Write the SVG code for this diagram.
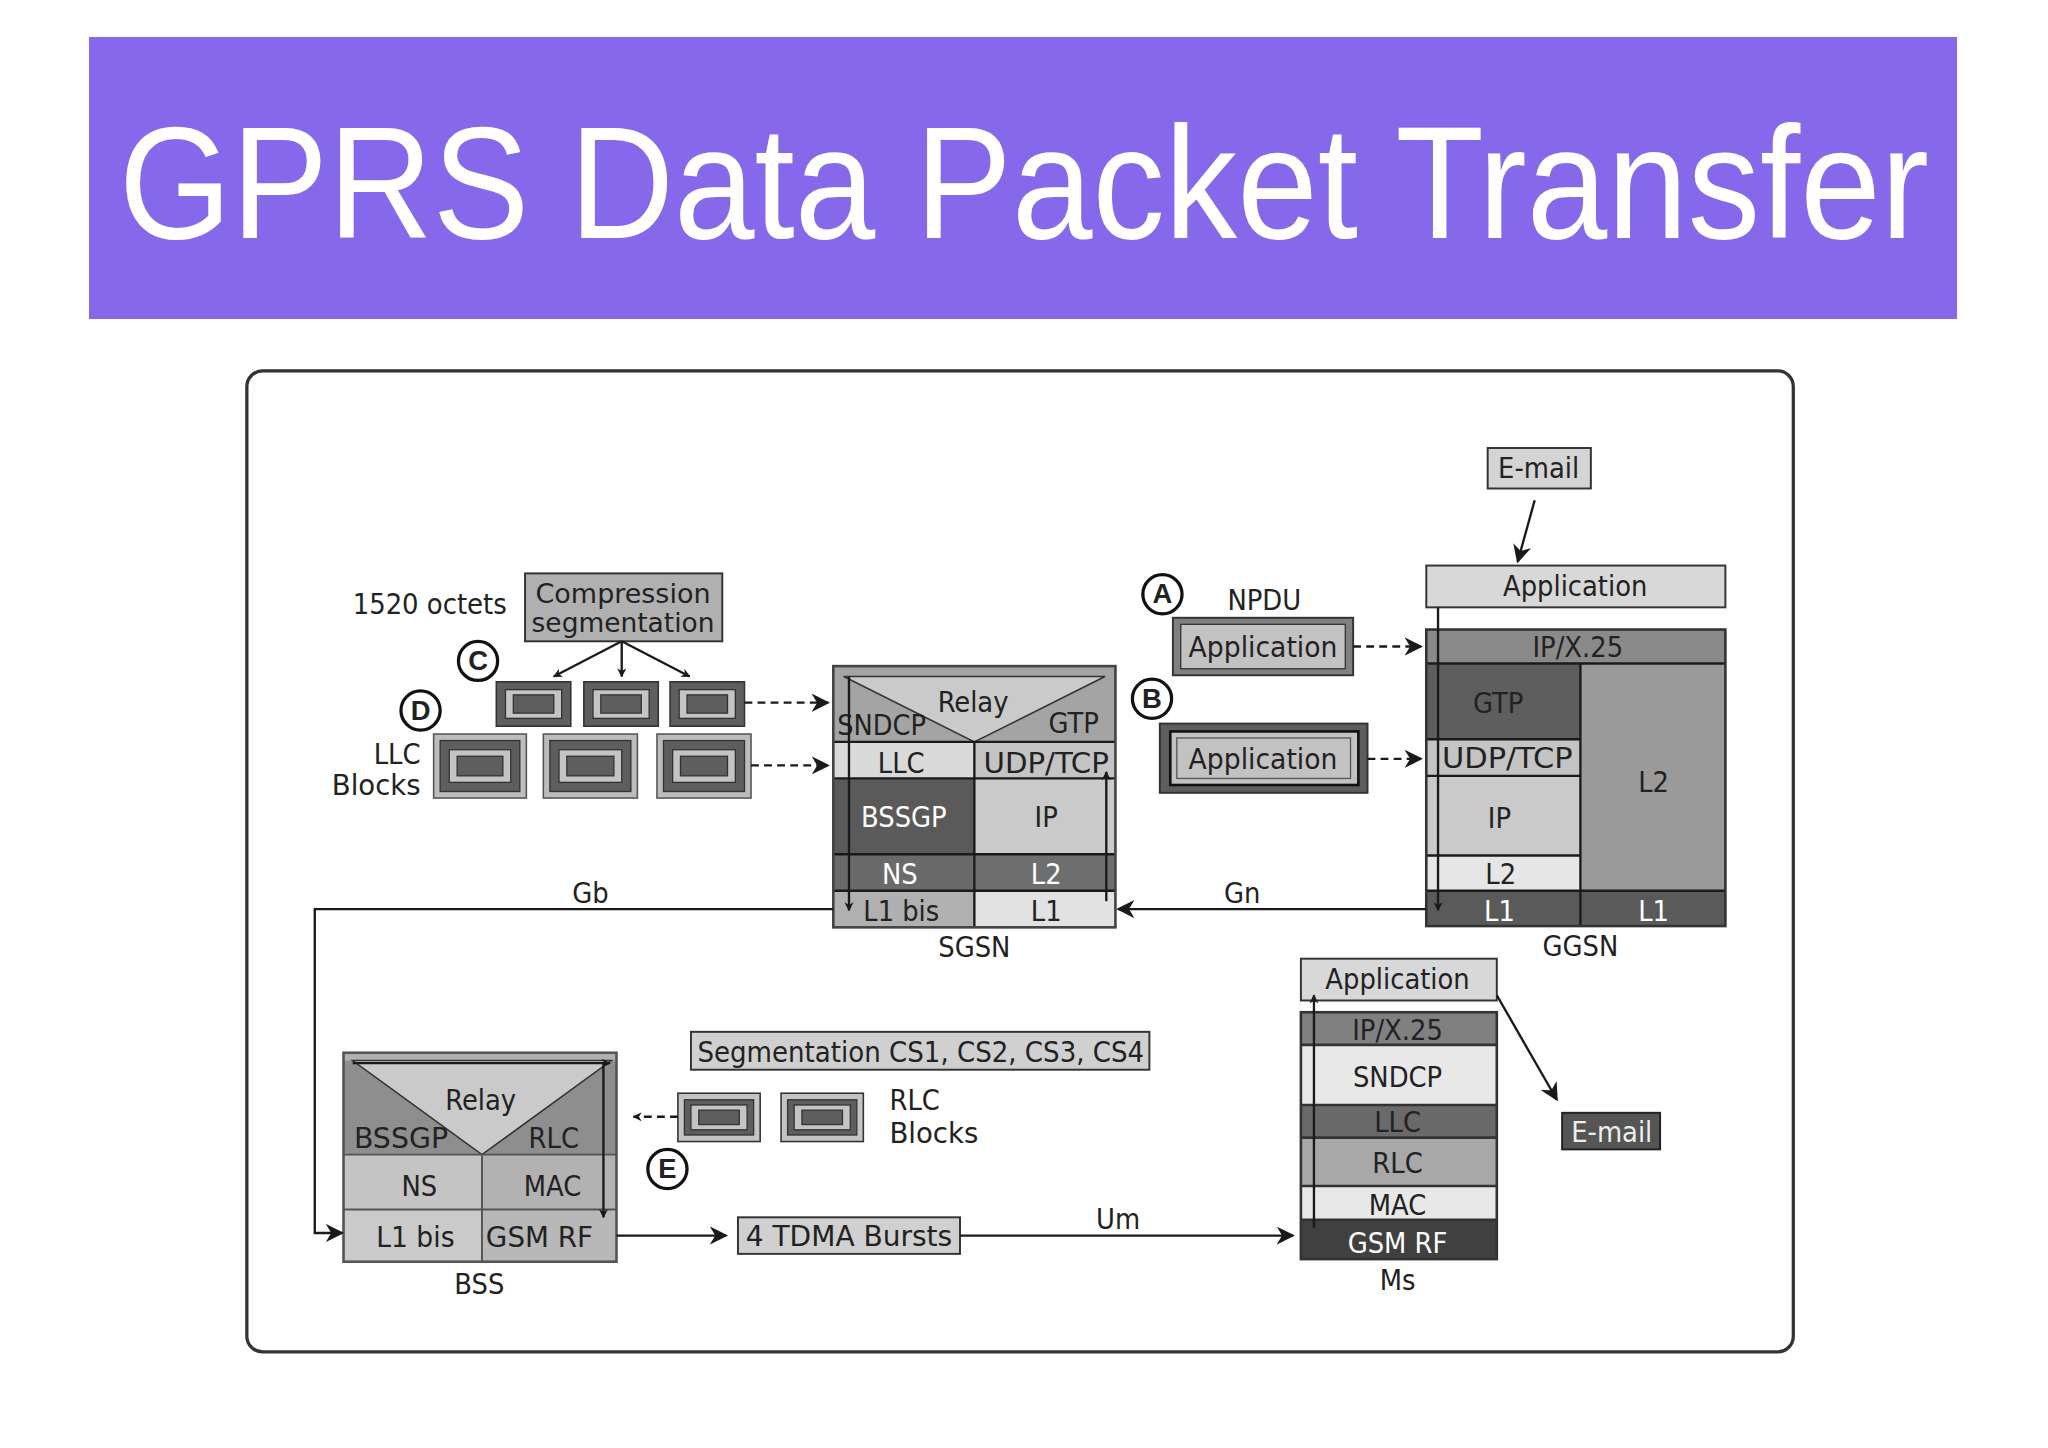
<svg xmlns="http://www.w3.org/2000/svg" width="2048" height="1448" viewBox="0 0 2048 1448">
<defs>
<marker id="ah" viewBox="0 0 10 10" refX="9" refY="5" markerWidth="7" markerHeight="7" markerUnits="userSpaceOnUse" orient="auto"><path d="M0,0 L10,5 L0,10 L3,5 z" fill="#1a1a1a"/></marker>
<marker id="ahs" viewBox="0 0 10 10" refX="9" refY="5" markerWidth="14" markerHeight="14" markerUnits="userSpaceOnUse" orient="auto"><path d="M0,0 L10,5 L0,10 L3,5 z" fill="#1a1a1a"/></marker>
<style>
text{font-family:"Liberation Sans Narrow","DejaVu Sans Condensed","Liberation Sans",sans-serif;font-stretch:condensed;fill:#222;text-anchor:middle}
.t{font-size:22px}
.s{font-size:20px}
.w{fill:#fff}
.b{stroke:#333;stroke-width:1.5}
.ln{stroke:#1a1a1a;stroke-width:1.8;fill:none}
.da{stroke:#1a1a1a;stroke-width:1.8;fill:none;stroke-dasharray:6 4}
.c{fill:#fff;stroke:#111;stroke-width:2.5}
.cl{font-size:21px;font-weight:bold;font-family:"Liberation Sans",sans-serif;font-stretch:normal}
</style>
</defs>
<rect width="2048" height="1448" fill="#fff"/>
<rect x="89" y="37" width="1868" height="282" fill="#8668EA"/>
<text x="1024" y="238" style="font-family:'Liberation Sans',sans-serif;font-stretch:normal;font-size:160px;fill:#fff" textLength="1810" lengthAdjust="spacingAndGlyphs">GPRS Data Packet Transfer</text>
<g transform="scale(1.30612)">
<rect x="189" y="284" width="1184" height="751" rx="12" fill="#fff" stroke="#333" stroke-width="2.5"/>

<g id="compression">
<rect x="402" y="439" width="151" height="52" fill="#b0b0b0" class="b"/>
<text x="477" y="462" class="s" textLength="134" lengthAdjust="spacingAndGlyphs">Compression</text>
<text x="477" y="484" class="s" textLength="140" lengthAdjust="spacingAndGlyphs">segmentation</text>
<text x="329" y="470" class="t" textLength="118" lengthAdjust="spacingAndGlyphs">1520 octets</text>
</g>
<g id="circleC"><circle cx="366" cy="506" r="15" class="c"/><text x="366" y="513" class="cl">C</text></g>
<g id="circleD"><circle cx="322" cy="544" r="15" class="c"/><text x="322" y="551" class="cl">D</text></g>
<g id="circleA"><circle cx="890" cy="455" r="15" class="c"/><text x="890" y="462" class="cl">A</text></g>
<g id="circleB"><circle cx="882" cy="535" r="15" class="c"/><text x="882" y="542" class="cl">B</text></g>
<g id="circleE"><circle cx="511" cy="895" r="15" class="c"/><text x="511" y="902" class="cl">E</text></g>

<g id="smallBlocks">
<g fill="#5e5e5e" stroke="#333" stroke-width="1.2">
<rect x="380" y="522" width="57" height="34"/><rect x="447" y="522" width="57" height="34"/><rect x="513" y="522" width="57" height="34"/>
</g>
<g fill="#c4c4c4" stroke="#333" stroke-width="1"><rect x="387" y="528" width="43" height="22"/><rect x="454" y="528" width="43" height="22"/><rect x="520" y="528" width="43" height="22"/></g>
<g fill="#5e5e5e" stroke="#333" stroke-width="1"><rect x="393" y="532" width="31" height="14"/><rect x="460" y="532" width="31" height="14"/><rect x="526" y="532" width="31" height="14"/></g>
</g>
<g id="llcBlocks">
<g fill="#bcbcbc" stroke="#555" stroke-width="1.2"><rect x="332" y="562" width="71" height="49"/><rect x="416" y="562" width="72" height="49"/><rect x="503" y="562" width="72" height="49"/></g>
<g fill="#5e5e5e" stroke="#333" stroke-width="1"><rect x="337" y="567" width="61" height="39"/><rect x="421" y="567" width="62" height="39"/><rect x="508" y="567" width="62" height="39"/></g>
<g fill="#c4c4c4" stroke="#333" stroke-width="1"><rect x="344" y="574" width="47" height="25"/><rect x="428" y="574" width="48" height="25"/><rect x="515" y="574" width="48" height="25"/></g>
<g fill="#5e5e5e" stroke="#333" stroke-width="1"><rect x="350" y="579" width="35" height="15"/><rect x="434" y="579" width="36" height="15"/><rect x="521" y="579" width="36" height="15"/></g>
<text x="322" y="585" class="t" style="text-anchor:end">LLC</text>
<text x="322" y="609" class="t" style="text-anchor:end" textLength="68" lengthAdjust="spacingAndGlyphs">Blocks</text>
</g>

<g id="sgsn">
<rect x="638" y="510" width="216" height="58" fill="#a4a4a4"/>
<polygon points="646,518 846,518 746,568" fill="#cacaca" stroke="#333" stroke-width="1.2"/>
<rect x="638" y="568" width="108" height="28" fill="#dadada"/>
<rect x="746" y="568" width="108" height="28" fill="#c4c4c4"/>
<rect x="638" y="596" width="108" height="58" fill="#5a5a5a"/>
<rect x="746" y="596" width="108" height="58" fill="#cacaca"/>
<rect x="638" y="654" width="108" height="28" fill="#6a6a6a"/>
<rect x="746" y="654" width="108" height="28" fill="#6e6e6e"/>
<rect x="638" y="682" width="108" height="28" fill="#b0b0b0"/>
<rect x="746" y="682" width="108" height="28" fill="#e2e2e2"/>
<g class="ln"><line x1="638" y1="568" x2="854" y2="568"/><line x1="638" y1="596" x2="854" y2="596"/><line x1="638" y1="654" x2="854" y2="654"/><line x1="638" y1="682" x2="854" y2="682"/><line x1="746" y1="568" x2="746" y2="710"/></g>
<rect x="638" y="510" width="216" height="200" fill="none" stroke="#444" stroke-width="2"/>
<text x="745" y="545" class="t">Relay</text>
<text x="675" y="563" class="t" textLength="68" lengthAdjust="spacingAndGlyphs">SNDCP</text>
<text x="822" y="561" class="t">GTP</text>
<text x="690" y="592" class="t">LLC</text>
<text x="801" y="592" class="t" textLength="96" lengthAdjust="spacingAndGlyphs">UDP/TCP</text>
<text x="692" y="633" class="t w">BSSGP</text>
<text x="801" y="633" class="t">IP</text>
<text x="689" y="677" class="t w">NS</text>
<text x="801" y="677" class="t w">L2</text>
<text x="690" y="705" class="t" textLength="58" lengthAdjust="spacingAndGlyphs">L1 bis</text>
<text x="801" y="705" class="t">L1</text>
<text x="746" y="733" class="t">SGSN</text>
</g>

<g id="ggsnEmail"><rect x="1139" y="343" width="79" height="31" fill="#d4d4d4" class="b"/><text x="1178" y="366" class="t">E-mail</text></g>
<g id="ggsn">
<rect x="1092" y="433" width="229" height="32" fill="#d8d8d8" class="b"/>
<text x="1206" y="456" class="t">Application</text>
<rect x="1092" y="482" width="229" height="26" fill="#8a8a8a"/>
<rect x="1092" y="508" width="118" height="58" fill="#5e5e5e"/>
<rect x="1092" y="566" width="118" height="28" fill="#c4c4c4"/>
<rect x="1092" y="594" width="118" height="61" fill="#cacaca"/>
<rect x="1092" y="655" width="118" height="27" fill="#e6e6e6"/>
<rect x="1210" y="508" width="111" height="174" fill="#9a9a9a"/>
<rect x="1092" y="682" width="229" height="27" fill="#5a5a5a"/>
<g class="ln"><line x1="1092" y1="508" x2="1321" y2="508"/><line x1="1092" y1="566" x2="1210" y2="566"/><line x1="1092" y1="594" x2="1210" y2="594"/><line x1="1092" y1="655" x2="1210" y2="655"/><line x1="1092" y1="682" x2="1321" y2="682"/><line x1="1210" y1="508" x2="1210" y2="709"/></g>
<rect x="1092" y="482" width="229" height="227" fill="none" stroke="#333" stroke-width="2"/>
<text x="1208" y="503" class="t">IP/X.25</text>
<text x="1147" y="546" class="t">GTP</text>
<text x="1154" y="588" class="t" textLength="100" lengthAdjust="spacingAndGlyphs">UDP/TCP</text>
<text x="1148" y="634" class="t">IP</text>
<text x="1149" y="677" class="t">L2</text>
<text x="1266" y="606" class="t">L2</text>
<text x="1148" y="705" class="t w">L1</text>
<text x="1266" y="705" class="t w">L1</text>
<text x="1210" y="732" class="t">GGSN</text>
</g>

<g id="npduA">
<rect x="898" y="473" width="138" height="44" fill="#808080" stroke="#333" stroke-width="1.5"/>
<rect x="904" y="478" width="126" height="34" fill="#c2c2c2" stroke="#333" stroke-width="1"/>
<text x="967" y="503" class="t" textLength="114" lengthAdjust="spacingAndGlyphs">Application</text>
<text x="968" y="467" class="t">NPDU</text>
</g>
<g id="npduB">
<rect x="888" y="554" width="159" height="53" fill="#5e5e5e" stroke="#333" stroke-width="1.5"/>
<rect x="896" y="560" width="144" height="41" fill="#c2c2c2" stroke="#111" stroke-width="2"/>
<rect x="901" y="565" width="133" height="31" fill="none" stroke="#555" stroke-width="1"/>
<text x="967" y="589" class="t" textLength="114" lengthAdjust="spacingAndGlyphs">Application</text>
</g>

<g id="bss">
<rect x="263" y="806" width="209" height="78" fill="#8e8e8e"/>
<rect x="263" y="806" width="209" height="6" fill="#b0b0b0"/>
<polygon points="270,812 468,812 369,884" fill="#cacaca" stroke="#333" stroke-width="1.2"/>
<rect x="263" y="884" width="106" height="42" fill="#c4c4c4"/>
<rect x="369" y="884" width="103" height="42" fill="#b2b2b2"/>
<rect x="263" y="926" width="106" height="40" fill="#cacaca"/>
<rect x="369" y="926" width="103" height="40" fill="#b8b8b8"/>
<g stroke="#555" stroke-width="1.5"><line x1="263" y1="884" x2="472" y2="884"/><line x1="263" y1="926" x2="472" y2="926"/><line x1="369" y1="884" x2="369" y2="966"/></g>
<rect x="263" y="806" width="209" height="160" fill="none" stroke="#555" stroke-width="2"/>
<text x="368" y="850" class="t">Relay</text>
<text x="307" y="879" class="t" textLength="72" lengthAdjust="spacingAndGlyphs">BSSGP</text>
<text x="424" y="879" class="t">RLC</text>
<text x="321" y="916" class="t">NS</text>
<text x="423" y="916" class="t">MAC</text>
<text x="318" y="955" class="t" textLength="60" lengthAdjust="spacingAndGlyphs">L1 bis</text>
<text x="413" y="955" class="t" textLength="82" lengthAdjust="spacingAndGlyphs">GSM RF</text>
<text x="367" y="991" class="t">BSS</text>
</g>

<g id="segmentation"><rect x="529" y="790" width="351" height="29" fill="#d0d0d0" class="b"/><text x="705" y="813" class="t" textLength="342" lengthAdjust="spacingAndGlyphs">Segmentation CS1, CS2, CS3, CS4</text></g>
<g id="rlcBlocks">
<g fill="#c4c4c4" stroke="#333" stroke-width="1.2"><rect x="519" y="837" width="63" height="37"/><rect x="598" y="837" width="63" height="37"/></g>
<g fill="#5e5e5e" stroke="#333" stroke-width="1"><rect x="524" y="842" width="53" height="27"/><rect x="603" y="842" width="53" height="27"/></g>
<g fill="#c4c4c4" stroke="#333" stroke-width="1"><rect x="529" y="846" width="43" height="19"/><rect x="608" y="846" width="43" height="19"/></g>
<g fill="#5e5e5e" stroke="#333" stroke-width="1"><rect x="535" y="850" width="31" height="11"/><rect x="614" y="850" width="31" height="11"/></g>
<text x="681" y="850" class="t" style="text-anchor:start">RLC</text>
<text x="681" y="875" class="t" style="text-anchor:start" textLength="68" lengthAdjust="spacingAndGlyphs">Blocks</text>
</g>
<g id="tdma"><rect x="565" y="932" width="170" height="28" fill="#d0d0d0" class="b"/><text x="650" y="954" class="t" textLength="158" lengthAdjust="spacingAndGlyphs">4 TDMA Bursts</text></g>

<g id="ms">
<rect x="996" y="734" width="150" height="32" fill="#d8d8d8" class="b"/>
<text x="1070" y="757" class="t">Application</text>
<rect x="996" y="775" width="150" height="25" fill="#808080"/>
<rect x="996" y="800" width="150" height="46" fill="#e8e8e8"/>
<rect x="996" y="846" width="150" height="25" fill="#6a6a6a"/>
<rect x="996" y="871" width="150" height="37" fill="#a8a8a8"/>
<rect x="996" y="908" width="150" height="26" fill="#e8e8e8"/>
<rect x="996" y="934" width="150" height="30" fill="#404040"/>
<g stroke="#333" stroke-width="2"><line x1="996" y1="800" x2="1146" y2="800"/><line x1="996" y1="846" x2="1146" y2="846"/><line x1="996" y1="871" x2="1146" y2="871"/><line x1="996" y1="908" x2="1146" y2="908"/><line x1="996" y1="934" x2="1146" y2="934"/></g>
<rect x="996" y="775" width="150" height="189" fill="none" stroke="#333" stroke-width="2"/>
<text x="1070" y="796" class="t">IP/X.25</text>
<text x="1070" y="832" class="t">SNDCP</text>
<text x="1070" y="867" class="t">LLC</text>
<text x="1070" y="898" class="t">RLC</text>
<text x="1070" y="930" class="t">MAC</text>
<text x="1070" y="959" class="t w">GSM RF</text>
<text x="1070" y="988" class="t">Ms</text>
</g>
<g id="msEmail"><rect x="1196" y="852" width="75" height="28" fill="#555" stroke="#222" stroke-width="1.5"/><text x="1234" y="874" class="t" style="fill:#eee">E-mail</text></g>

<g id="connectors">
<line x1="476" y1="491" x2="424" y2="518" class="ln" marker-end="url(#ah)"/>
<line x1="476" y1="491" x2="476" y2="518" class="ln" marker-end="url(#ah)"/>
<line x1="476" y1="491" x2="528" y2="518" class="ln" marker-end="url(#ah)"/>
<line x1="570" y1="538" x2="634" y2="538" class="da" marker-end="url(#ahs)"/>
<line x1="575" y1="586" x2="634" y2="586" class="da" marker-end="url(#ahs)"/>
<line x1="650" y1="518" x2="650" y2="697" class="ln" marker-end="url(#ah)"/>
<line x1="847" y1="690" x2="847" y2="591" class="ln" marker-end="url(#ah)"/>
<line x1="1036" y1="495" x2="1088" y2="495" class="da" marker-end="url(#ahs)"/>
<line x1="1047" y1="581" x2="1088" y2="581" class="da" marker-end="url(#ahs)"/>
<line x1="1175" y1="383" x2="1162" y2="430" class="ln" marker-end="url(#ahs)"/>
<line x1="1101" y1="465" x2="1101" y2="697" class="ln" marker-end="url(#ah)"/>
<line x1="1092" y1="696" x2="856" y2="696" class="ln" marker-end="url(#ahs)"/>
<text x="951" y="691" class="t">Gn</text>
<polyline points="638,696 241,696 241,944 262,944" class="ln" marker-end="url(#ahs)"/>
<text x="452" y="691" class="t">Gb</text>
<line x1="270" y1="814" x2="467" y2="814" class="ln" marker-end="url(#ah)"/>
<line x1="462" y1="814" x2="462" y2="932" class="ln" marker-end="url(#ah)"/>
<line x1="519" y1="855" x2="485" y2="855" class="da" marker-end="url(#ah)"/>
<line x1="472" y1="946" x2="556" y2="946" class="ln" marker-end="url(#ahs)"/>
<line x1="735" y1="946" x2="990" y2="946" class="ln" marker-end="url(#ahs)"/>
<text x="856" y="941" class="t">Um</text>
<line x1="1006" y1="940" x2="1006" y2="762" class="ln" marker-end="url(#ah)"/>
<line x1="1146" y1="762" x2="1192" y2="842" class="ln" marker-end="url(#ahs)"/>
</g>
</g>
</svg>
